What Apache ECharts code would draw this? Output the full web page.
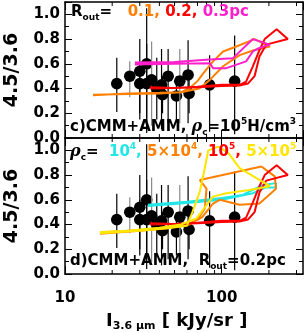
<!DOCTYPE html>
<html><head><meta charset="utf-8">
<script src="https://cdn.jsdelivr.net/npm/echarts@6/dist/echarts.min.js"></script>
<style>html,body{margin:0;padding:0;background:#fff}#c{width:307px;height:333px}</style>
</head><body><div id="c"></div>
<script>
// ---- observations (same in both panels) ----
const ptX  = [21.4, 25.9, 30.0, 33.2, 30.0, 33.2, 35.7, 38.5, 41.3, 41.9, 45.5, 51.4, 54.0, 61.0, 61.9, 83.7, 120.9];
const ptY  = [0.44, 0.50, 0.54, 0.60, 0.44, 0.44, 0.47, 0.40, 0.43, 0.35, 0.50, 0.34, 0.46, 0.51, 0.36, 0.43, 0.46];
const ptLo = [0.21, 0.33, 0.15, 0.04, 0.20, 0.12, 0.10, 0.15, 0.07, 0.20, 0.12, 0.15, 0.12, 0.12, 0.20, 0.05, 0.03];
const ptHi = [0.65, 0.62, 0.80, 1.05, 0.60, 0.76, 0.78, 0.65, 0.72, 0.50, 0.72, 0.50, 0.72, 0.79, 0.55, 0.67, 0.83];
const ptGray = [0, 1, 0, 0, 0, 0, 1, 0, 0, 0, 0, 0, 1, 0, 0, 0, 0];

// ---- panel c: Rout = 0.1, 0.2, 0.3 pc ----
const r01X = [15.1, 25, 40, 55, 62, 70, 76, 88, 102, 124, 162, 203, 160, 130, 102, 84, 72, 55, 40, 25, 15.1];
const r01Y = [0.35, 0.355, 0.36, 0.37, 0.40, 0.46, 0.52, 0.62, 0.70, 0.74, 0.80, 0.74, 0.71, 0.67, 0.58, 0.47, 0.40, 0.37, 0.365, 0.36, 0.345];
const r02X = [34.8, 50, 70, 100, 130, 143, 158, 174, 188, 224, 264, 192, 174, 162, 147, 130, 100, 70, 50, 34.8];
const r02Y = [0.40, 0.405, 0.415, 0.43, 0.43, 0.456, 0.58, 0.71, 0.80, 0.88, 0.80, 0.755, 0.66, 0.50, 0.44, 0.425, 0.42, 0.41, 0.405, 0.41];
const r03X = [27.9, 50, 84, 118, 158, 203, 208, 175, 158, 143, 107, 88, 84, 50, 27.9];
const r03Y = [0.61, 0.615, 0.635, 0.646, 0.80, 0.755, 0.747, 0.73, 0.70, 0.62, 0.565, 0.565, 0.605, 0.60, 0.595];

// ---- panel d: rho_c = 1e4, 5e4, 1e5, 5e5 ----
const d1e4X = [33.8, 60, 100, 136, 183, 222, 222, 192, 158, 100, 60, 33.8];
const d1e4Y = [0.56, 0.585, 0.615, 0.64, 0.72, 0.735, 0.70, 0.70, 0.653, 0.60, 0.575, 0.55];
const d5e4X = [16.7, 30, 45, 62, 70, 78, 80, 72.5, 179, 218, 222, 174, 130, 97, 88, 75, 62, 45, 30, 16.7];
const d5e4Y = [0.335, 0.355, 0.375, 0.41, 0.44, 0.53, 0.69, 0.76, 0.87, 0.79, 0.69, 0.57, 0.56, 0.60, 0.57, 0.46, 0.40, 0.37, 0.35, 0.325];
const d1e5X = r02X;
const d1e5Y = r02Y;
const d5e5X = [16.7, 30, 45, 60, 65, 72.5, 78, 82, 95, 110, 130, 203, 150, 107, 88, 80, 69, 55, 40, 25, 16.7];
const d5e5Y = [0.33, 0.35, 0.37, 0.39, 0.50, 0.667, 0.857, 1.0, 1.03, 0.98, 0.857, 0.71, 0.68, 0.653, 0.626, 0.557, 0.45, 0.40, 0.375, 0.35, 0.34];

// ---- axes ----
const xMin = 10, xMax = 330;
const yMin = 0, yMax = 1.1, yStep = 0.2;
const xMinorTicks = [20, 30, 40, 50, 60, 70, 80, 90, 200, 300];

const FONT = 'DejaVu Sans';
const C_OR = '#FF8000', C_RED = '#FF0000', C_MAG = '#FF20CC', C_CY = '#20E6E6', C_YEL = '#FFE600';

const pairs = (xs, ys) => xs.map((x, i) => [x, ys[i]]);
const obs = ptX.map((x, i) => [x, ptY[i], ptLo[i], ptHi[i], ptGray[i]]);

function errItem(params, api) {
  const x = api.value(0), y = api.value(1), lo = api.value(2), hi = api.value(3);
  const col = api.value(4) ? '#888' : '#000';
  const c = api.coord([x, y]);
  const a = api.coord([x, lo]), b = api.coord([x, hi]);
  const l = api.coord([x / 1.08, y]), r = api.coord([x * 1.08, y]);
  return { type: 'group', children: [
    { type: 'line', shape: { x1: c[0], y1: a[1], x2: c[0], y2: b[1] }, style: { stroke: col, lineWidth: 1.2 } },
    { type: 'line', shape: { x1: l[0], y1: c[1], x2: r[0], y2: c[1] }, style: { stroke: col, lineWidth: 1.2 } },
    { type: 'circle', shape: { cx: c[0], cy: c[1], r: 5.8 }, style: { fill: '#000' } }
  ]};
}
function tickItem(params, api) {
  const v = api.value(0);
  const pb = api.coord([v, yMin]), pt = api.coord([v, yMax]);
  return { type: 'group', children: [
    { type: 'line', shape: { x1: pb[0], y1: pb[1], x2: pb[0], y2: pb[1] - 4 }, style: { stroke: '#000', lineWidth: 1 } },
    { type: 'line', shape: { x1: pt[0], y1: pt[1], x2: pt[0], y2: pt[1] + 4 }, style: { stroke: '#000', lineWidth: 1 } }
  ]};
}

const axLine = { show: true, onZero: false, lineStyle: { color: '#000', width: 1.5 } };
function xAx(grid, pos, labels) {
  return { type: 'log', logBase: 10, gridIndex: grid, position: pos, min: xMin, max: xMax,
    axisLine: axLine, splitLine: { show: false },
    axisTick: { show: true, inside: true, length: 8, lineStyle: { color: '#000', width: 1 } },
    axisLabel: { show: labels, margin: 17, color: '#000', fontFamily: FONT, fontWeight: 'bold', fontSize: 15,
      showMaxLabel: false, formatter: v => String(Math.round(v)) } };
}
function yAx(grid, pos, labels) {
  return { type: 'value', gridIndex: grid, position: pos, min: yMin, max: yMax, interval: yStep,
    axisLine: axLine, splitLine: { show: false },
    axisTick: { show: true, inside: true, length: 7, lineStyle: { color: '#000', width: 1 } },
    minorTick: { show: true, splitNumber: 2, length: 4, lineStyle: { color: '#000', width: 1 } },
    axisLabel: { show: labels, margin: 5, color: '#000', fontFamily: FONT, fontWeight: 'bold', fontSize: 15,
      showMaxLabel: false, formatter: v => v.toFixed(1) },
    name: labels ? '4.5/3.6' : '', nameLocation: 'middle', nameGap: 43, nameRotate: 90,
    nameTextStyle: { color: '#000', fontFamily: FONT, fontWeight: 'bold', fontSize: 19 } };
}
function lineS(grid, xs, ys, col) {
  return { type: 'line', xAxisIndex: grid * 2, yAxisIndex: grid * 2, data: pairs(xs, ys),
    showSymbol: false, symbol: 'none', clip: true, z: 5, animation: false,
    lineStyle: { color: col, width: 2 } };
}

const chart = echarts.init(document.getElementById('c'), null, { renderer: 'canvas' });
const tok = (size, fill, extra) => Object.assign({ fontFamily: FONT, fontWeight: 'bold', fontSize: size, fill: fill, lineHeight: 20 }, extra || {});
const rich = {
  b: tok(15, '#000'),
  sub: tok(9, '#000', { verticalAlign: 'bottom' }),
  sup: tok(9, '#000', { verticalAlign: 'top' }),
  gr: tok(16, '#000', { fontFamily: 'DejaVu Serif', fontStyle: 'italic' }),
  o: tok(15, C_OR), os: tok(9, C_OR, { verticalAlign: 'top' }),
  r: tok(15, C_RED), rs: tok(9, C_RED, { verticalAlign: 'top' }),
  m: tok(15, C_MAG),
  c: tok(15, C_CY), cs: tok(9, C_CY, { verticalAlign: 'top' }),
  y: tok(15, C_YEL), ys: tok(9, C_YEL, { verticalAlign: 'top' }),
  t: tok(18, '#000', { lineHeight: 22 }),
  ts: tok(11, '#000', { lineHeight: 22, verticalAlign: 'bottom' })
};
const txt = (x, y, s) => ({ type: 'text', left: x, top: y, z: 10, style: { text: s, rich: rich } });

chart.setOption({
  animation: false,
  backgroundColor: '#fff',
  grid: [
    { left: 65, top: 2, width: 238, height: 136, containLabel: false, outerBoundsMode: 'none' },
    { left: 65, top: 138, width: 238, height: 136, containLabel: false, outerBoundsMode: 'none' }
  ],
  xAxis: [xAx(0, 'bottom', false), xAx(0, 'top', false), xAx(1, 'bottom', true), xAx(1, 'top', false)],
  yAxis: [yAx(0, 'left', true), yAx(0, 'right', false), yAx(1, 'left', true), yAx(1, 'right', false)],
  series: [
    { type: 'custom', xAxisIndex: 0, yAxisIndex: 0, data: obs, renderItem: errItem, clip: true, z: 3 },
    { type: 'custom', xAxisIndex: 2, yAxisIndex: 2, data: obs, renderItem: errItem, clip: true, z: 3 },
    { type: 'custom', xAxisIndex: 0, yAxisIndex: 0, data: xMinorTicks.map(v => [v, 0]), renderItem: tickItem, z: 4 },
    { type: 'custom', xAxisIndex: 2, yAxisIndex: 2, data: xMinorTicks.map(v => [v, 0]), renderItem: tickItem, z: 4 },
    lineS(0, r01X, r01Y, C_OR),
    lineS(0, r02X, r02Y, C_RED),
    lineS(0, r03X, r03Y, C_MAG),
    lineS(1, d1e4X, d1e4Y, C_CY),
    lineS(1, d5e4X, d5e4Y, C_OR),
    lineS(1, d1e5X, d1e5Y, C_RED),
    lineS(1, d5e5X, d5e5Y, C_YEL)
  ],
  graphic: [
    txt(71, 5, '{b|R}{sub|out}{b|=   }{o|0.1, }{r|0.2, }{m|0.3pc}'),
    txt(70, 117, '{b|c)CMM+AMM, }{gr|ρ}{sub|c}{b|=10}{sup|5}{b|H/cm}{sup|3}'),
    txt(70, 142, '{gr|ρ}{sub|c}{b|=  }{c|10}{cs|4}{c|, }{o|5×10}{os|4}{o|, }{r|10}{rs|5}{r|, }{y|5×10}{ys|5}'),
    txt(70, 254, '{b|d)CMM+AMM,  R}{sub|out}{b|=0.2pc}'),
    txt(106, 312, '{t|I}{ts|3.6 μm}{t| [ kJy/sr ]}')
  ]
});
</script></body></html>
